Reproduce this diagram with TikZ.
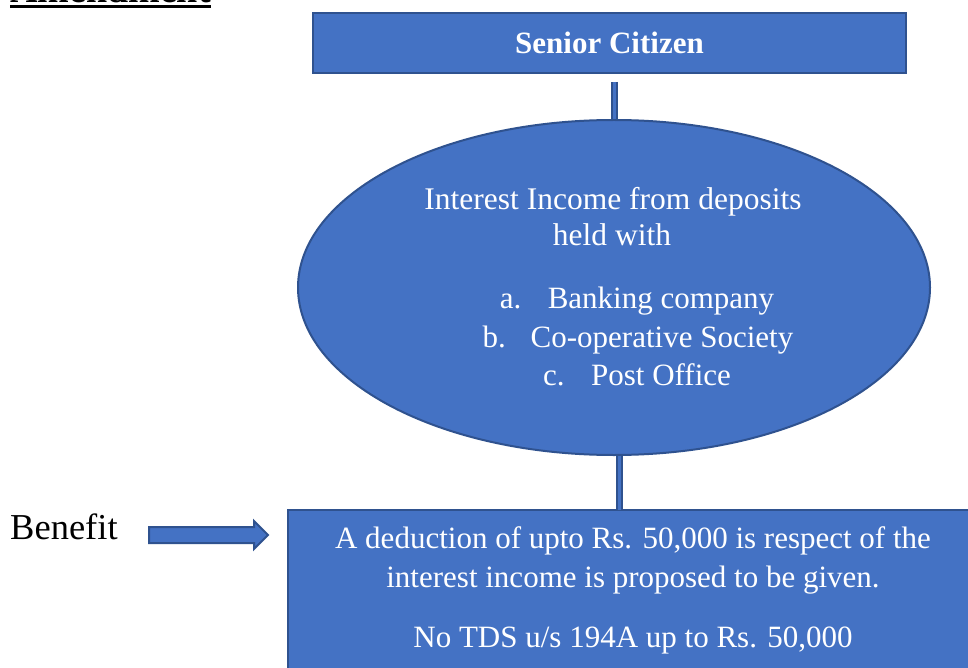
\documentclass[tikz,border=0pt]{standalone}
\usepackage{fontspec}
\setmainfont{Liberation Serif}
\usetikzlibrary{shapes.geometric,shapes.arrows,calc}
\definecolor{boxfill}{HTML}{4472C4}
\definecolor{boxline}{HTML}{2F528F}
\begin{document}
\begin{tikzpicture}[x=1pt,y=-1pt,
  blue shape/.style={fill=boxfill,draw=boxline,line width=2pt},
  body/.style={text=white,font=\fontsize{31}{39}\selectfont,inner sep=0pt},
  link/.style={draw=boxline,line width=2pt,double=boxfill,double distance=3pt}]
\useasboundingbox (0,0) rectangle (968,668);
\clip (0,0) rectangle (968,668);
\fill[white] (0,0) rectangle (968,668);

% heading, partly above the page edge
\node[anchor=base west,inner sep=0pt,font=\fontsize{38}{40}\selectfont\bfseries] (heading) at (10,3) {Amendment};
\draw[line width=2.5pt] ($(heading.base west)+(0,3.5)$) -- ($(heading.base east)+(0,3.5)$);

% shapes
\node[blue shape,minimum width=593,minimum height=60,anchor=north west,inner sep=0pt,
      text=white,font=\fontsize{31}{34}\selectfont\bfseries] (citizen) at (312,12) {Senior Citizen};
\node[blue shape,ellipse,minimum width=632,minimum height=335,inner sep=0pt] (deposits) at (614,287.5) {};
% the lower box runs past the right and bottom edges of the page
\node[fill=boxfill,anchor=north west,minimum width=760,minimum height=200,inner sep=0pt] (benefitbox) at (288,510) {};
\draw[boxline,line width=2pt] (benefitbox.south west) -- (benefitbox.north west) -- (benefitbox.north east);
\node[blue shape,single arrow,minimum height=119,inner sep=7pt,single arrow head extend=6pt,
      single arrow tip angle=90,anchor=tail] (pointer) at (148,535) {};

% connectors
\coordinate (upper top) at ($(citizen.south)+(4.5,8)$);
\coordinate (lower top) at ($(deposits.south)+(5,0)$);
\draw[link] (upper top) -- (upper top |- deposits.north);
\draw[link] (lower top) -- (lower top |- benefitbox.north);

% texts
\node[anchor=base west,inner sep=0pt,font=\fontsize{36.5}{38}\selectfont] (benefitlabel) at (10,539) {Benefit};

\node[body,anchor=base,font=\fontsize{31.5}{39}\selectfont] (dep1) at (613,210) {Interest Income from deposits};
\node[body,anchor=base,font=\fontsize{31.5}{39}\selectfont] (dep2) at (612,245) {held with};
\node[body,anchor=base] (itema) at (637,308) {\makebox[48pt][l]{a.}Banking company};
\node[body,anchor=base] (itemb) at (638,347) {\makebox[48pt][l]{b.}Co-operative Society};
\node[body,anchor=base] (itemc) at (637,385) {\makebox[48pt][l]{c.}Post Office};

\node[body,anchor=base] (ben1) at (633,548) {A deduction of upto Rs. 50,000 is respect of the};
\node[body,anchor=base] (ben2) at (633,587) {interest income is proposed to be given.};
\node[body,anchor=base] (ben3) at (633,647) {No TDS u/s 194A up to Rs. 50,000};
\end{tikzpicture}
\end{document}
